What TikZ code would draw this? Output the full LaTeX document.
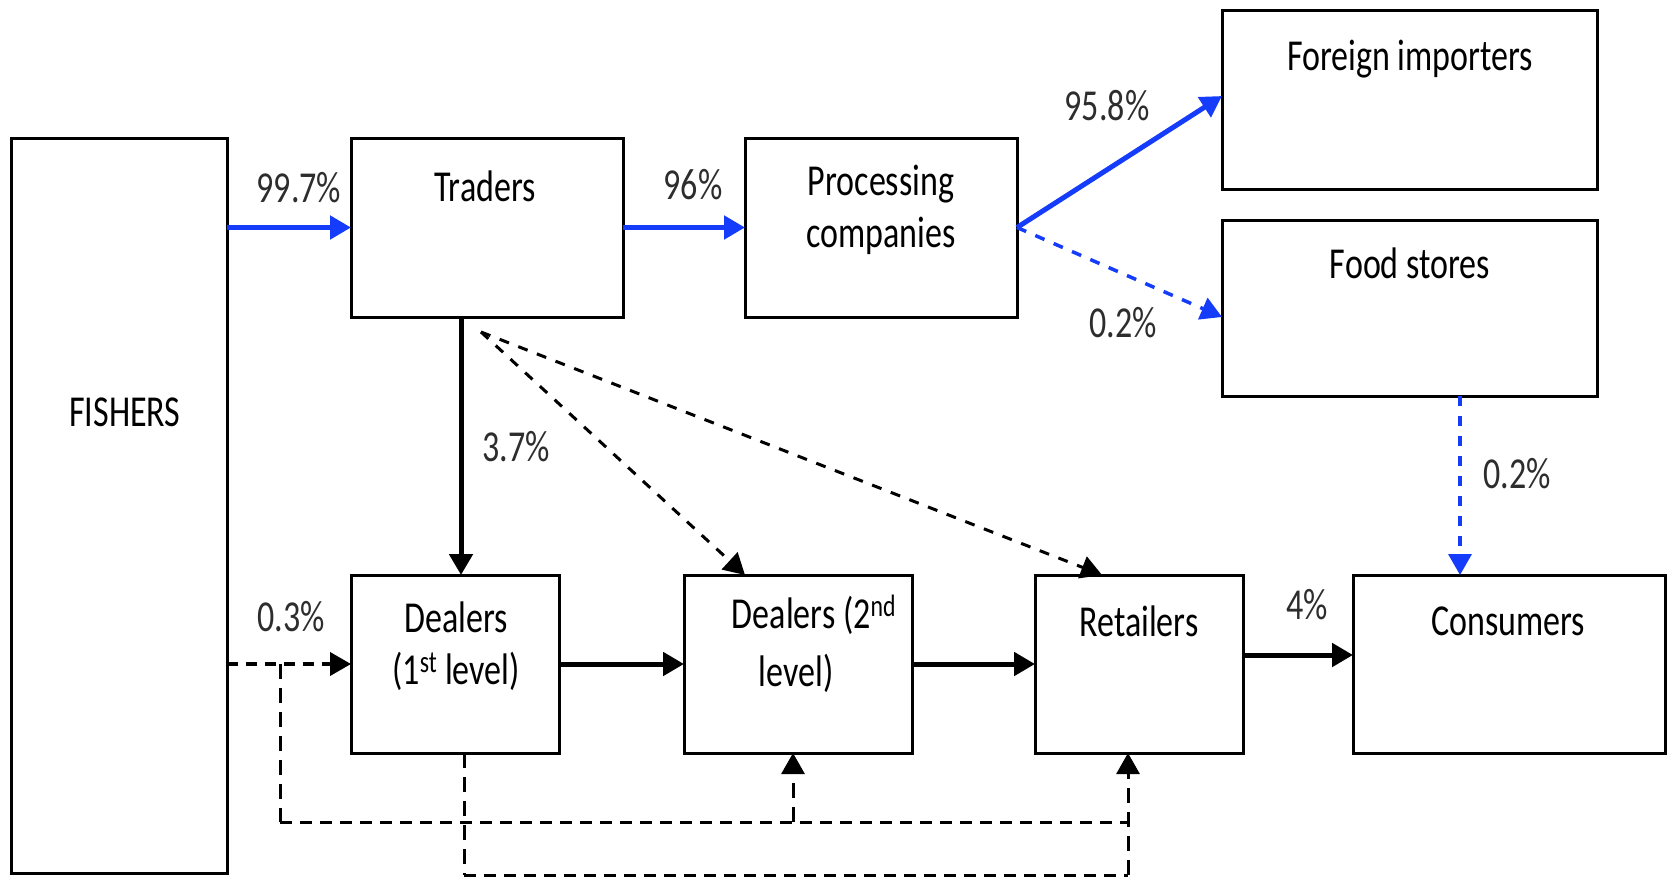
\documentclass[tikz,border=0pt]{standalone}
\usepackage{fontspec}
\setmainfont{Carlito}
\usetikzlibrary{arrows.meta,calc}
\definecolor{flowblue}{RGB}{20,60,250}
\definecolor{lbl}{RGB}{45,45,45}
\newcommand{\vst}[1]{\scalebox{1}[1.3]{#1}}
\begin{document}
\begin{tikzpicture}[x=1pt,y=-1pt,
 box/.style={draw, line width=3pt, anchor=north west, inner sep=0pt, outer sep=0pt},
 txt/.style={font=\fontsize{34}{40}\selectfont, inner sep=0pt},
 pct/.style={txt, text=lbl},
 tip/.style={-{Triangle[length=21pt,width=23pt]}},
 bflow/.style={flowblue, line width=5pt, tip},
 bdash/.style={flowblue, line width=3.5pt, dash pattern=on 10pt off 10pt, tip},
 kflow/.style={black, line width=5pt, tip},
 kdash/.style={black, line width=3pt, dash pattern=on 12pt off 8pt},
 kdashv/.style={black, line width=3pt, dash pattern=on 15pt off 9pt},
 kdashb/.style={black, line width=4pt, dash pattern=on 11pt off 8pt},
 kdiag/.style={black, line width=3pt, dash pattern=on 10pt off 10pt},
]
\useasboundingbox[fill=white] (0,0) rectangle (1669,883);

% boxes
\node[box, minimum width=216pt, minimum height=735pt] (fish) at (11,138) {};
\node[box, minimum width=272pt, minimum height=179pt] (trad) at (351,138) {};
\node[box, minimum width=272pt, minimum height=179pt] (proc) at (745,138) {};
\node[box, minimum width=375pt, minimum height=178pt] (fimp) at (1222,11) {};
\node[box, minimum width=375pt, minimum height=176pt] (food) at (1222,220) {};
\node[box, minimum width=208pt, minimum height=178pt] (dl1) at (351,575) {};
\node[box, minimum width=228pt, minimum height=178pt] (dl2) at (684,575) {};
\node[box, minimum width=208pt, minimum height=178pt] (ret) at (1035,575) {};
\node[box, minimum width=312pt, minimum height=178pt] (cons) at (1353,575) {};

% box texts
\node[txt] (tfish) at (125,412) {\vst{FISHERS}};
\node[txt] (ttrad) at (485,186) {\vst{Traders}};
\node[txt] (tproc1) at (881,184) {\vst{Processing}};
\node[txt] (tproc2) at (881,236) {\vst{companies}};
\node[txt] (tfimp) at (1410,59) {\vst{Foreign importers}};
\node[txt] (tfood) at (1410,263) {\vst{Food stores}};
\node[txt] (tdl1a) at (456,617) {\vst{Dealers}};
\node[txt] (tdl1b) at (456,671) {\vst{(1\textsuperscript{st} level)}};
\node[txt] (tdl2a) at (814,615) {\vst{Dealers (2\textsuperscript{nd}}};
\node[txt] (tdl2b) at (796,673) {\vst{level)}};
\node[txt] (tret) at (1139,621) {\vst{Retailers}};
\node[txt] (tcons) at (1508,621) {\vst{Consumers}};

% percentages
\node[pct] (p1) at (299,188) {\vst{99.7\%}};
\node[pct] (p2) at (693,185) {\vst{96\%}};
\node[pct] (p3) at (1107,106) {\vst{95.8\%}};
\node[pct] (p4) at (1123,323) {\vst{0.2\%}};
\node[pct] (p5) at (1517,474) {\vst{0.2\%}};
\node[pct] (p6) at (516,447) {\vst{3.7\%}};
\node[pct] (p7) at (291,617) {\vst{0.3\%}};
\node[pct] (p8) at (1307,605) {\vst{4\%}};

% coordinates
\coordinate (fimpin) at ($(fimp.north west)+(0,85)$);
\coordinate (foodin) at ($(food.north west)+(0,97)$);
\coordinate (foodout) at ($(food.south west)+(238,0)$);
\coordinate (consin) at ($(cons.north west)+(107,0)$);
\coordinate (dtop) at ($(dl1.north)+(6,0)$);
\coordinate (tfan) at ($(trad.south)+(-6,15)$);
\coordinate (d2in) at ($(dl2.north west)+(61,0)$);
\coordinate (retin) at ($(ret.north west)+(67,0)$);
\coordinate (fishout) at (fish.east |- dl1.west);
\coordinate (j1) at ($(fishout)+(53,0)$);
\coordinate (rb) at ($(ret.south)+(-11,0)$);
\coordinate (d2b) at ($(dl2.south)+(-5,0)$);
\coordinate (d1b) at ($(dl1.south)+(9,0)$);
\coordinate (lvl1) at (0,822);
\coordinate (lvl2) at (0,875);

% blue flows
\draw[bflow] (fish.east |- trad.west) -- (trad.west);
\draw[bflow] (trad.east) -- (proc.west);
\draw[bflow] (proc.east) -- (fimpin);
\draw[bdash] (proc.east) -- (foodin);
\draw[bdash] (foodout) -- (consin);

% black flows
\draw[kflow] (trad.south -| dtop) -- (dtop);
\draw[kdiag, tip] (tfan) -- (d2in);
\draw[kdiag, tip] (tfan) -- (retin);
\draw[kflow] (dl1.east) -- (dl2.west);
\draw[kflow] (dl2.east) -- (ret.west);
\draw[kflow] ($(ret.east)+(0,-9)$) -- ($(cons.west)+(0,-9)$);
\draw[kdashb, tip] (fishout) -- (dl1.west);

% lower dashed network
\draw[kdashv] (j1) -- (j1 |- lvl1);
\draw[kdash] (j1 |- lvl1) -- (rb |- lvl1);
\draw[kdashv, tip] (d2b |- lvl1) -- (d2b);
\draw[kdashv] (d1b) -- (d1b |- lvl2);
\draw[kdash] (d1b |- lvl2) -- (rb |- lvl2);
\draw[kdashv, tip] (rb |- lvl2) -- (rb);
\end{tikzpicture}
\end{document}
